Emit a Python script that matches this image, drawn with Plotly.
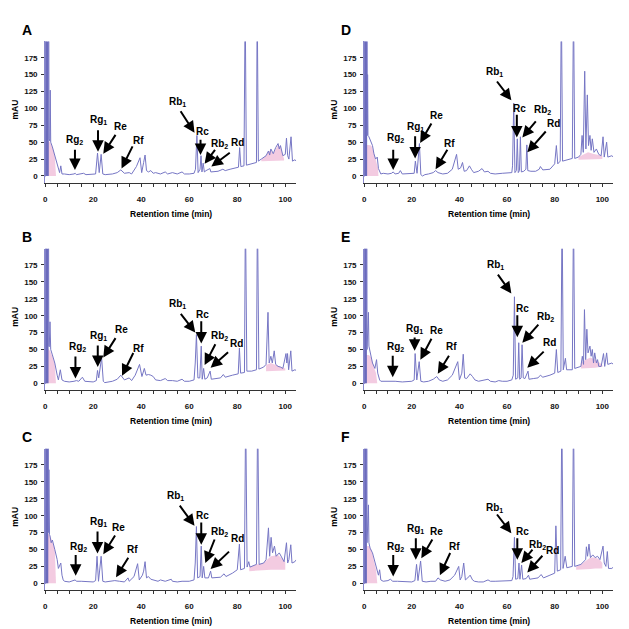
import plotly.graph_objects as go

# ---------------- data ----------------
x_ticks = [0, 20, 40, 60, 80, 100]
y_ticks = [0, 25, 50, 75, 100, 125, 150, 175]
letters = ["A", "B", "C", "D", "E", "F"]
peak_names = ["Rg<sub>2</sub>", "Rg<sub>1</sub>", "Re", "Rf",
              "Rb<sub>1</sub>", "Rc", "Rb<sub>2</sub>", "Rd"]

# chromatogram traces: retention time (min) and absorbance (mAU)
t_A = [0, 0.2, 0.25, 1.5, 1.6, 1.9, 2.1, 2.3, 3.0, 4.0, 5.0, 6.0, 6.5, 7.0, 8, 10, 12, 12.5, 13, 15, 16, 17, 20,
       21, 21.8, 22.5, 23.3, 24, 25, 28, 30, 31.5, 33, 35, 36, 37, 38, 39.5, 40.2, 41, 41.6, 42.2, 43, 44, 45, 46,
       48, 50, 51, 53, 55, 57, 58, 60, 62, 62.6, 63.2, 63.7, 64.5, 64.9, 65.3, 65.8, 66.3, 67, 68.6, 69, 70, 72,
       74, 75, 77, 79, 80.5, 81, 81.5, 82.8, 83.3, 83.8, 86, 88, 88.3, 88.8, 90, 91, 92, 93, 93.5, 94, 95, 96, 97,
       97.5, 98, 99, 100, 100.5, 101, 101.5, 102.4, 103, 104, 104.6]
v_A = [0, 0, 260, 260, 55, 52, 127, 50, 43, 30, 15, 5, 15, 3, 3, 2, 3, 4, 2, 3, 4, 2, 2,
       3, 34, 5, 32, 3, 2, 3, 5, 9, 4, 5, 3, 8, 14, 27, 5, 20, 31, 8, 6, 8, 4, 5,
       3, 6, 3, 5, 3, 6, 3, 3, 4, 10, 60, 5, 10, 30, 6, 19, 6, 8, 11, 6, 6, 7,
       10, 8, 10, 12, 13, 42, 14, 15, 260, 16, 18, 20, 260, 22, 25, 28, 30, 37, 31, 40, 33, 42, 48,
       40, 45, 30, 32, 56, 30, 25, 58, 22, 24, 22]

t_B = [0, 0.2, 0.25, 1.4, 1.5, 1.7, 2.0, 2.3, 3.0, 4.0, 5.0, 5.5, 6.3, 7, 8, 10, 12, 13, 14, 15.5, 16.5, 18, 20,
       21.3, 21.8, 22.3, 23.5, 24.2, 24.8, 28, 30, 31.5, 33, 35, 36, 37.5, 39.3, 40.3, 41.3, 42, 43, 44, 45, 46,
       48, 50, 51, 53, 55, 57, 58, 60, 62, 62.5, 63, 63.6, 64.4, 65, 65.4, 66, 66.5, 67.5, 68.7, 69.2, 71, 73,
       74.2, 75, 78, 80.4, 80.9, 81.4, 83, 83.4, 84, 86, 88, 88.4, 89, 91, 92, 92.8, 93.3, 94, 94.6, 95.4, 96,
       97, 98, 99, 100.3, 100.65, 100.95, 101.4, 102.3, 102.8, 104, 104.6]
v_B = [0, 0, 260, 260, 55, 54, 91, 50, 42, 30, 12, 5, 20, 5, 3, 2, 3, 4, 3, 9, 3, 3, 2,
       4, 19, 8, 38, 3, 1, 3, 6, 12, 5, 8, 4, 12, 28, 10, 22, 12, 13, 12, 10, 5,
       4, 7, 4, 4, 3, 6, 3, 3, 5, 30, 72, 8, 8, 55, 6, 22, 6, 8, 18, 6, 7, 8,
       13, 9, 12, 14, 52, 15, 16, 260, 18, 18, 20, 260, 21, 24, 28, 105, 30, 40, 30, 48, 28,
       25, 24, 22, 44, 30, 44, 20, 48, 18, 20, 19]

t_C = [0, 0.2, 0.25, 1.3, 1.35, 1.55, 1.8, 2.0, 2.5, 3.0, 4.0, 5.0, 5.5, 6.5, 7, 7.5, 8, 10, 12.5, 13, 15, 18, 20,
       21, 21.6, 22.2, 23.3, 24, 25, 27, 29, 31, 33, 34.5, 35, 37, 38.5, 39.2, 40.5, 41, 41.6, 42.2, 43, 44, 45,
       47, 48, 50, 52.5, 53, 55, 57, 60, 62, 62.5, 63, 63.5, 64.5, 65, 65.4, 66, 66.5, 68, 68.9, 69.4, 71, 73,
       74.5, 75.3, 78, 80, 80.9, 81.4, 83, 83.5, 84.1, 84.8, 85.3, 88, 88.5, 89.1, 91, 92, 93, 93.5, 94.1, 94.7,
       95.5, 96.2, 97.5, 98.5, 99.5, 100.5, 101, 101.5, 102.3, 102.8, 104, 104.6]
v_C = [0, 0, 260, 260, 75, 168, 72, 70, 60, 64, 50, 35, 22, 30, 12, 5, 3, 2, 5, 3, 3, 2, 2,
       4, 40, 3, 40, 3, 2, 3, 4, 3, 2, 8, 3, 10, 29, 5, 12, 18, 32, 8, 10, 6, 5,
       3, 5, 3, 6, 3, 2, 3, 3, 5, 30, 84, 8, 10, 55, 8, 25, 8, 8, 18, 8, 8, 9,
       14, 10, 15, 20, 58, 20, 22, 260, 24, 32, 24, 28, 260, 28, 30, 35, 82, 40, 68, 45,
       55, 40, 45, 38, 32, 60, 30, 35, 57, 30, 32, 35]

t_D = [0, 0.2, 0.25, 1.25, 1.3, 1.45, 1.6, 2.0, 2.8, 3.5, 4.1, 4.8, 5.5, 6.0, 7.0, 8, 10, 11.5, 12.2, 13, 14.5,
       15.2, 16, 18, 20, 21, 21.5, 22.2, 23.2, 23.8, 24.5, 25.5, 27, 29, 30, 31, 33, 35, 37, 38.8, 39.5, 40.5,
       41.3, 42, 43, 44.2, 45, 46, 48, 49.5, 50.5, 52, 53, 55, 58, 60, 62, 62.3, 62.8, 63.3, 63.9, 64.3, 64.7,
       65.2, 65.6, 66.0, 67, 67.9, 68.3, 68.7, 70, 72, 73.5, 74, 75, 78, 79, 80, 80.7, 81.3, 82.3, 82.8, 83.3,
       85, 87.4, 87.9, 88.4, 90, 91, 91.5, 92, 92.6, 93.1, 93.7, 94.2, 94.8, 95.3, 95.8, 96.5, 97.5, 98.5, 99.5,
       100.3, 100.8, 101.8, 102.3, 104, 104.6]
v_D = [0, 0, 260, 260, 60, 150, 60, 58, 51, 45, 33, 25, 28, 11, 3, 4, 3, 4, 6, 3, 4,
       8, 3, 3, 3, 4, 22, 4, 48, 2, 0, 2, 3, 5, 8, 5, 3, 4, 10, 32, 10, 12,
       20, 7, 8, 15, 10, 5, 7, 11, 6, 7, 4, 3, 4, 4, 5, 15, 108, 5, 8, 55, 5,
       8, 58, 6, 7, 10, 46, 8, 7, 7, 10, 14, 9, 10, 14, 18, 45, 18, 22, 260, 22,
       24, 26, 260, 26, 28, 32, 60, 35, 155, 40, 120, 45, 60, 38, 55, 35, 40, 32, 30,
       58, 28, 50, 28, 30, 28]

t_E = [0, 0.2, 0.25, 1.15, 1.2, 1.35, 1.5, 1.8, 2.0, 2.5, 3.5, 4.5, 5.2, 5.7, 6.5, 7, 9, 11, 12, 13, 16, 20,
       21, 21.4, 22.1, 23.1, 23.8, 25, 27, 29, 30.5, 31.5, 33, 35, 37, 39.3, 40, 41, 41.6, 42.2, 43, 44.5, 45.5,
       46.5, 48, 50, 52, 53, 55, 56.5, 58, 60, 62, 62.6, 63.1, 63.6, 64.5, 64.9, 65.3, 65.9, 66.3, 66.8, 67.5,
       68.8, 69.2, 71, 73, 74, 75, 78, 80, 80.7, 81.3, 82.6, 83.1, 83.6, 84.5, 85, 87.4, 87.9, 88.4, 91, 91.6,
       92.1, 92.5, 93, 93.5, 94, 94.8, 95.3, 95.8, 96.3, 96.8, 97.5, 98, 98.5, 99.5, 100.5, 101, 101.8, 102.3,
       104, 104.6]
v_E = [0, 0, 260, 260, 50, 65, 50, 105, 55, 45, 30, 22, 35, 15, 5, 3, 3, 3, 4, 3, 2, 3,
       5, 44, 5, 32, 3, 2, 3, 6, 10, 5, 3, 5, 12, 32, 5, 15, 43, 8, 7, 14, 10,
       5, 3, 5, 6, 3, 2, 4, 3, 3, 5, 12, 128, 6, 8, 60, 6, 8, 57, 8, 7,
       18, 6, 7, 8, 12, 9, 12, 15, 50, 16, 18, 260, 20, 37, 20, 20, 260, 22, 25, 40,
       28, 109, 35, 80, 45, 55, 40, 50, 30, 45, 30, 35, 25, 25, 44, 25, 45, 28,
       30, 28]

t_F = [0, 0.2, 0.25, 1.15, 1.2, 1.35, 1.5, 1.8, 2.0, 2.5, 3.5, 4.5, 5.3, 6.0, 6.5, 7, 8, 10, 11, 12, 14, 18, 20,
       21.3, 22, 22.6, 23.7, 24.4, 26, 28, 30, 31, 32, 34, 36, 38, 39.7, 40.3, 41, 41.8, 42.5, 43.5, 44.5, 45.5,
       46.3, 48, 50, 52, 53, 55, 57, 60, 62, 62.5, 63.1, 63.6, 64.5, 65, 65.4, 66.1, 66.6, 68, 69, 69.5, 71, 73,
       74.3, 75.3, 78, 80, 80.5, 81.1, 82.5, 83.0, 83.5, 84.4, 85.1, 87.4, 87.9, 88.4, 91, 93, 93.3, 93.8, 94.4,
       95, 96, 97, 98, 99, 100.3, 100.8, 101.5, 102.1, 102.6, 104, 104.6]
v_F = [0, 0, 260, 260, 60, 80, 60, 116, 60, 52, 45, 30, 22, 12, 20, 5, 3, 4, 6, 3, 3, 2, 2,
       4, 28, 4, 33, 3, 2, 3, 3, 8, 5, 3, 5, 12, 25, 5, 10, 30, 5, 8, 12, 5,
       3, 2, 2, 5, 3, 3, 3, 3, 4, 10, 68, 6, 7, 30, 6, 27, 6, 7, 12, 6, 7, 8,
       13, 8, 12, 15, 85, 18, 20, 260, 22, 40, 23, 25, 260, 25, 28, 35, 54, 40, 58,
       38, 42, 38, 40, 35, 55, 30, 25, 47, 22, 22, 24]

# solvent-front (saturated) region end, min
front_end = {"A": 1.5, "B": 1.4, "C": 1.3, "D": 1.25, "E": 1.15, "F": 1.15}

# pink overlay near start (time, top mAU)
pinkS_t_A = [0.3, 1.5, 2.0, 3.0, 4.0, 4.3, 4.5]; pinkS_v_A = [45, 52, 50, 43, 30, 15, 0]
pinkS_t_B = [0.3, 1.0, 2.0, 3.0, 4.0, 4.5];      pinkS_v_B = [40, 52, 48, 40, 28, 0]
pinkS_t_C = [0.3, 1.0, 2.0, 3.0, 4.0, 4.5];      pinkS_v_C = [70, 75, 70, 62, 50, 0]
pinkS_t_D = [0.3, 1.0, 2.0, 3.0, 4.0, 5.0, 5.8, 6.0]; pinkS_v_D = [45, 46, 46, 45, 35, 22, 12, 0]
pinkS_t_E = [0.3, 1.0, 2.0, 3.0, 4.0, 5.0, 5.5]; pinkS_v_E = [40, 42, 42, 38, 25, 15, 0]
pinkS_t_F = [0.3, 1.0, 2.0, 3.0, 4.0, 5.0, 5.5]; pinkS_v_F = [50, 55, 55, 50, 35, 20, 0]

# pink overlay near end (time, top mAU, base mAU)
pinkE_t_A = [90, 91, 92, 93, 94, 95, 96, 97, 98, 99, 99.5]
pinkE_top_A = [24, 27, 30, 36, 38, 33, 40, 46, 43, 30, 25]
pinkE_base_A = [22, 22, 22, 22, 22, 22, 22, 22, 22, 23, 23]
pinkE_t_B = [92, 94, 96, 98, 100]
pinkE_top_B = [27, 30, 27, 25, 22]
pinkE_base_B = [18, 18, 18, 19, 19]
pinkE_t_C = [85, 88, 91, 94, 97, 100]
pinkE_top_C = [24, 28, 30, 40, 42, 32]
pinkE_base_C = [18, 19, 20, 20, 20, 20]
pinkE_t_D = [90, 92, 94, 96, 98, 100]
pinkE_top_D = [28, 32, 35, 33, 32, 30]
pinkE_base_D = [24, 24, 24, 24, 24, 25]
pinkE_t_E = [91, 93, 95, 97, 99, 100]
pinkE_top_E = [30, 35, 38, 35, 30, 27]
pinkE_base_E = [22, 22, 23, 23, 24, 24]
pinkE_t_F = [89, 91, 93, 95, 97, 99, 100]
pinkE_top_F = [25, 28, 33, 38, 38, 35, 30]
pinkE_base_F = [20, 20, 21, 21, 22, 22, 22]

# peak arrows: tip (peak) and tail positions, label positions (data units)
tip_x_A = [12.4, 22.0, 24.2, 31.8, 62.2, 64.7, 66.4, 69.2]; tip_y_A = [9, 36, 33, 11, 64, 31, 18, 14]
tail_x_A = [12.4, 22.0, 29.7, 36.7, 56, 64.7, 71.2, 77.5]; tail_y_A = [41, 70, 63, 46, 98, 56, 41, 36]
lab_x_A = [12.4, 22.1, 31.4, 38.7, 55, 65.4, 72.6, 80]; lab_y_A = [53, 83, 73, 52, 110, 66, 48, 49]

tip_x_B = [12.6, 21.9, 24.2, 32, 62.5, 65, 66.4, 68.9]; tip_y_B = [7, 24, 38, 11, 75, 59, 27, 23]
tail_x_B = [12.6, 21.9, 29.7, 37, 56, 65, 71.2, 76.8]; tail_y_B = [42, 58, 69, 47, 105, 94, 60, 48]
lab_x_B = [13.4, 22.4, 31.8, 39, 55.3, 65.4, 72.6, 79.5]; lab_y_B = [53, 70, 79, 52, 117, 102, 70, 59]

tip_x_C = [12.7, 21.8, 24.2, 29.5, 62.2, 65, 66.7, 68.9]; tip_y_C = [11, 44, 43, 9, 85, 57, 30, 21]
tail_x_C = [12.7, 21.8, 29.5, 35, 55.6, 65, 70.8, 77.2]; tail_y_C = [44, 79, 73, 40, 117, 92, 67, 49]
lab_x_C = [13.8, 22.1, 30.4, 36.2, 54.2, 65.4, 72.6, 80]; lab_y_C = [53, 90, 83, 50, 129, 100, 76, 67]

tip_x_D = [12.2, 21.4, 23.5, 30, 61.8, 64.1, 66.4, 68.5]; tip_y_D = [9, 26, 49, 10, 112, 57, 57, 35]
tail_x_D = [12.2, 21.4, 28.6, 35.3, 55.3, 64.1, 72.6, 76.8]; tail_y_D = [41, 61, 80, 41, 142, 93, 83, 68]
lab_x_D = [13.3, 21.4, 30.4, 36, 54.6, 65.3, 74.7, 79.5]; lab_y_D = [56, 72, 90, 48, 154, 100, 97, 78]

tip_x_E = [12.0, 21.2, 23.6, 30.9, 61.8, 64.3, 66.4, 68.5]; tip_y_E = [9, 48, 35, 14, 133, 68, 60, 23]
tail_x_E = [12.0, 21.2, 28.6, 36, 55.7, 64.3, 73.7, 76]; tail_y_E = [43, 70, 68, 43, 163, 103, 89, 49]
lab_x_E = [13.1, 21.2, 30.4, 36.7, 55.3, 66.4, 76, 78]; lab_y_E = [54, 81, 78, 55, 175, 111, 98, 61]

tip_x_F = [12.2, 21.7, 24, 31.8, 61.8, 64.3, 66, 68.5]; tip_y_F = [10, 35, 37, 12, 74, 35, 30, 16]
tail_x_F = [12.2, 21.7, 29, 36.4, 55.3, 64.3, 71.2, 75.4]; tail_y_F = [44, 69, 67, 47, 104, 69, 52, 43]
lab_x_F = [13.1, 21.7, 30.4, 37.8, 54.6, 66.4, 72.8, 79.0]; lab_y_F = [53, 80, 76, 54, 112, 76, 57, 49]

# ---------------- figure ----------------
panels = {
    "A": dict(t=t_A, v=v_A, ps=(pinkS_t_A, pinkS_v_A), pe=(pinkE_t_A, pinkE_top_A, pinkE_base_A),
              tip=(tip_x_A, tip_y_A), tail=(tail_x_A, tail_y_A), lab=(lab_x_A, lab_y_A)),
    "B": dict(t=t_B, v=v_B, ps=(pinkS_t_B, pinkS_v_B), pe=(pinkE_t_B, pinkE_top_B, pinkE_base_B),
              tip=(tip_x_B, tip_y_B), tail=(tail_x_B, tail_y_B), lab=(lab_x_B, lab_y_B)),
    "C": dict(t=t_C, v=v_C, ps=(pinkS_t_C, pinkS_v_C), pe=(pinkE_t_C, pinkE_top_C, pinkE_base_C),
              tip=(tip_x_C, tip_y_C), tail=(tail_x_C, tail_y_C), lab=(lab_x_C, lab_y_C)),
    "D": dict(t=t_D, v=v_D, ps=(pinkS_t_D, pinkS_v_D), pe=(pinkE_t_D, pinkE_top_D, pinkE_base_D),
              tip=(tip_x_D, tip_y_D), tail=(tail_x_D, tail_y_D), lab=(lab_x_D, lab_y_D)),
    "E": dict(t=t_E, v=v_E, ps=(pinkS_t_E, pinkS_v_E), pe=(pinkE_t_E, pinkE_top_E, pinkE_base_E),
              tip=(tip_x_E, tip_y_E), tail=(tail_x_E, tail_y_E), lab=(lab_x_E, lab_y_E)),
    "F": dict(t=t_F, v=v_F, ps=(pinkS_t_F, pinkS_v_F), pe=(pinkE_t_F, pinkE_top_F, pinkE_base_F),
              tip=(tip_x_F, tip_y_F), tail=(tail_x_F, tail_y_F), lab=(lab_x_F, lab_y_F)),
}

# The page body has an 8px margin, so the figure is 621px and page positions are shifted by 8px.
OFF = 8
W = H = 621
col_px = [(43.3, 295.0), (363.3, 613.0)]     # page pixels
row_zero_px = [176.0, 383.3, 583.3]          # page pixels of the 0 mAU line
px_per_unit = 16.9 / 25.0
y_lo, y_hi = -10.5, 199.0


def fx(p):
    return (p - OFF) / W


def fy(p):
    return (H - (p - OFF)) / H


FONT = "Liberation Sans, Arial, sans-serif"
LINE = "#7676c4"
PINK = "rgba(228,140,188,0.45)"

fig = go.Figure()
layout = dict(width=W, height=H, margin=dict(l=0, r=0, t=0, b=0),
              paper_bgcolor="white", plot_bgcolor="white", showlegend=False)
annotations = []

for i, L in enumerate(letters):
    col = 0 if i < 3 else 1
    row = i % 3
    n = i + 1
    xa = "x" if n == 1 else f"x{n}"
    ya = "y" if n == 1 else f"y{n}"
    p = panels[L]

    x0, x1 = col_px[col]
    z = row_zero_px[row]
    bot = z - y_lo * px_per_unit
    top = z - y_hi * px_per_unit
    xdom = [fx(x0), fx(x1)]
    ydom = [fy(bot), fy(top)]

    layout["xaxis" if n == 1 else f"xaxis{n}"] = dict(
        domain=xdom, anchor=ya, range=[0, 104.5], tickvals=x_ticks, ticks="outside", ticklen=3,
        tickcolor="#333", linecolor="#333", linewidth=1, showline=True, showgrid=False, zeroline=False,
        tickfont=dict(family=FONT, size=8, color="#111", weight="bold"), ticklabelstandoff=5,
        minor=dict(dtick=5, ticks="outside", ticklen=2.5, tickcolor="#333", showgrid=False),
        fixedrange=True)
    layout["yaxis" if n == 1 else f"yaxis{n}"] = dict(
        domain=ydom, anchor=xa, range=[y_lo, y_hi], tickvals=y_ticks, ticks="outside", ticklen=3,
        tickcolor="#333", linecolor="#8888cc", linewidth=1, showline=True, showgrid=False, zeroline=False,
        tickfont=dict(family=FONT, size=8, color="#111", weight="bold"), ticklabelstandoff=2,
        fixedrange=True)

    # pink overlays
    ps_t, ps_v = p["ps"]
    fig.add_trace(go.Scatter(x=ps_t, y=ps_v, mode="lines", line=dict(width=0, color=PINK),
                             fill="tozeroy", fillcolor=PINK, xaxis=xa, yaxis=ya, hoverinfo="skip"))
    pe_t, pe_top, pe_base = p["pe"]
    fig.add_trace(go.Scatter(x=pe_t, y=pe_base, mode="lines", line=dict(width=0, color=PINK),
                             xaxis=xa, yaxis=ya, hoverinfo="skip"))
    fig.add_trace(go.Scatter(x=pe_t, y=pe_top, mode="lines", line=dict(width=0, color=PINK),
                             fill="tonexty", fillcolor=PINK, xaxis=xa, yaxis=ya, hoverinfo="skip"))

    # solvent front block (saturated part of the trace)
    fe = front_end[L]
    bt = [t for t in p["t"] if t <= fe]
    bv = [v for t, v in zip(p["t"], p["v"]) if t <= fe]
    fig.add_trace(go.Scatter(x=bt, y=bv, mode="lines", line=dict(width=1, color="#6464b8"),
                             fill="tozeroy", fillcolor="#6a6abc", xaxis=xa, yaxis=ya, hoverinfo="skip"))

    # chromatogram
    fig.add_trace(go.Scatter(x=p["t"], y=p["v"], mode="lines", line=dict(width=1, color=LINE),
                             xaxis=xa, yaxis=ya, cliponaxis=True))

    # arrows and labels
    for k, name in enumerate(peak_names):
        annotations.append(dict(
            x=p["tip"][0][k], y=p["tip"][1][k], ax=p["tail"][0][k], ay=p["tail"][1][k],
            xref=xa, yref=ya, axref=xa, ayref=ya, text="", showarrow=True,
            arrowhead=2, arrowsize=1.15, arrowwidth=2, arrowcolor="black", standoff=0))
        annotations.append(dict(
            x=p["lab"][0][k], y=p["lab"][1][k], xref=xa, yref=ya, text=name, showarrow=False,
            xanchor="center", yanchor="middle",
            font=dict(family=FONT, size=10, color="black", weight="bold")))

    # panel letter
    annotations.append(dict(x=fx(x0 - 25), y=fy(z - 146), xref="paper", yref="paper",
                            text=L, showarrow=False, xanchor="left", yanchor="middle",
                            font=dict(family=FONT, size=14, color="black", weight="bold")))
    # axis titles
    annotations.append(dict(x=fx(x0 - 30), y=(ydom[0] + ydom[1]) / 2 + 0.005, xref="paper", yref="paper",
                            text="mAU", textangle=-90, showarrow=False,
                            xanchor="center", yanchor="middle",
                            font=dict(family=FONT, size=8.5, color="black", weight="bold")))
    annotations.append(dict(x=fx((x0 + x1) / 2), y=fy(z + 38), xref="paper", yref="paper",
                            text="Retention time (min)", showarrow=False,
                            xanchor="center", yanchor="middle",
                            font=dict(family=FONT, size=8.5, color="black", weight="bold")))

layout["annotations"] = annotations
fig.update_layout(**layout)
fig.write_html("out.html")
